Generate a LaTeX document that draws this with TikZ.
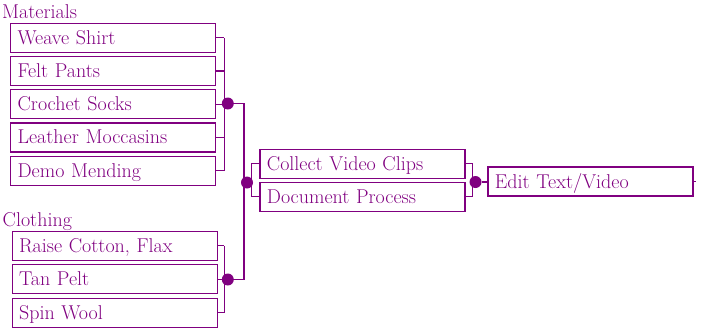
\documentclass[tikz,border=0pt]{standalone}
\definecolor{plum}{RGB}{128,0,128}
\tikzset{
  task/.style={draw=plum,text=plum,line width=1.2pt,anchor=west,inner xsep=7pt,inner ysep=0pt,
    text width=191pt,align=left,minimum height=29pt,text height=16pt,text depth=3pt,
    font=\fontsize{20}{24}\selectfont},
  head/.style={text=plum,anchor=base west,inner sep=0pt,font=\fontsize{20}{24}\selectfont},
  dot/.style={circle,fill=plum,inner sep=0pt,minimum size=12pt},
  wire/.style={plum,line width=1.2pt}
}
\begin{document}
\begin{tikzpicture}[x=1pt,y=-1pt]
\useasboundingbox (0,0) rectangle (709,333);
\node[head] (mat) at (2,18.3) {Materials};
\node[head] (clo) at (2.5,226) {Clothing};
\foreach \t [count=\i] in {Weave Shirt,Felt Pants,Crochet Socks,Leather Moccasins,Demo Mending}
  \node[task] (m\i) at (10,37.8+33.2*\i-33.2) {\t};
\foreach \t [count=\i] in {{Raise Cotton, Flax},Tan Pelt,Spin Wool}
  \node[task] (c\i) at (11.5,245.8+33.4*\i-33.4) {\t};
\node[task] (v1) at (259.3,163.8) {Collect Video Clips};
\node[task] (v2) at (259.3,196.7) {Document Process};
\node[task] (ed) at (487.3,181.5) {Edit Text/Video};
% joints
\coordinate (mb) at (224.3,103.5);
\coordinate (cb) at (224.3,278.8);
\coordinate (vj) at (244,182.5);
\node[dot] (md) at (227.8,103.5) {};
\node[dot] (cd) at (227.8,279.5) {};
\node[dot] (vd) at (247,182.5) {};
\node[dot] (xd) at (475.5,182) {};
\foreach \i in {1,...,5} \draw[wire] (m\i.east) -- (m\i.east -| mb);
\draw[wire] (m1.east -| mb) -- (m5.east -| mb);
\foreach \i in {1,2,3} \draw[wire] (c\i.east) -- (c\i.east -| cb);
\draw[wire] (c1.east -| cb) -- (c3.east -| cb);
\draw[wire] (md) -| (vj) |- (cd);
\draw[wire] (v1.west) -| ([xshift=-7.8pt]v1.west |- vd) |- (v2.west);
\draw[wire] (v1.east) -| ([xshift=6.8pt]v1.east |- xd) |- (v2.east);
\draw[wire] (xd) -- (ed.west |- xd);
\draw[wire] (ed.east) -- ++(2.5,0);
\end{tikzpicture}
\end{document}
